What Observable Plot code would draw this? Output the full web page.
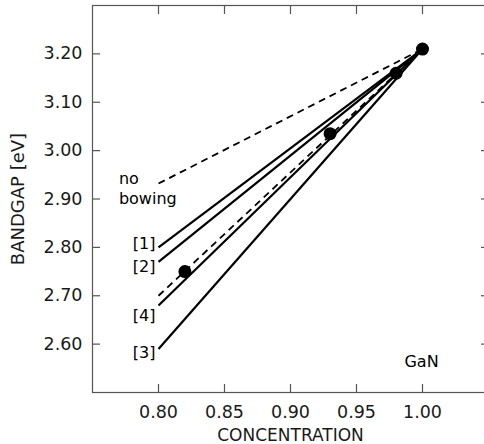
<!DOCTYPE html>
<html>
<head>
<meta charset="utf-8">
<script src="https://cdn.jsdelivr.net/npm/d3@7"></script>
<script src="https://cdn.jsdelivr.net/npm/@observablehq/plot@0.6"></script>
<style>
  html, body { margin: 0; padding: 0; background: #fff; overflow: hidden; }
  #chart svg { display: block; overflow: hidden; }
</style>
</head>
<body>
<div id="chart"></div>
<script>
// ---- data ----
const xTicks = [0.80, 0.85, 0.90, 0.95, 1.00];
const yTicks = [2.60, 2.70, 2.80, 2.90, 3.00, 3.10, 3.20];

// straight lines from x = 0.80 to the GaN end point
const lineNames  = ["no bowing", "[1]", "[2]", "fit", "[4]", "[3]"];
const lineStartX = [0.80, 0.80, 0.80, 0.80, 0.80, 0.80];
const lineStartY = [2.932, 2.80, 2.77, 2.70, 2.68, 2.59];
const lineEndX   = [1.00, 1.00, 1.00, 1.00, 1.00, 1.00];
const lineEndY   = [3.21, 3.21, 3.21, 3.21, 3.21, 3.21];

// measured points
const pointX = [0.82, 0.93, 0.98, 1.00];
const pointY = [2.75, 3.035, 3.16, 3.21];

// line labels (anchored at x = 0.80)
const refLabels = ["[1]", "[2]", "[4]", "[3]"];
const refLabelY = [2.807, 2.759, 2.659, 2.581];

const noBowingText = "no\nbowing";
const noBowingX = 0.770, noBowingY = 2.889;
const ganText = "GaN";
const ganX = 1.00, ganY = 2.564;

const xLabel = "CONCENTRATION";
const yLabel = "BANDGAP [eV]";

// ---- build tables ----
const segments = lineNames.map((name, i) => ({
  name, x1: lineStartX[i], y1: lineStartY[i], x2: lineEndX[i], y2: lineEndY[i]
}));
const dashedNames = new Set(["no bowing", "fit"]);
const points = pointX.map((x, i) => ({x, y: pointY[i]}));
const labels = refLabels.map((t, i) => ({t, x: 0.80, y: refLabelY[i]}));

const fmt = d3.format(".2f");
const frameColor = "#555";
const textColor = "#1a1a1a";

const chart = Plot.plot({
  width: 484,
  height: 444,
  marginLeft: 92,
  marginRight: -4,
  marginTop: 5,
  marginBottom: 52,
  style: {fontFamily: "'DejaVu Sans', sans-serif", fontSize: "17px", color: textColor, background: "#fff"},
  x: {domain: [0.75, 1.05]},
  y: {domain: [2.50, 3.30]},
  marks: [
    Plot.frame({stroke: frameColor, strokeWidth: 1.2}),
    Plot.axisX({ticks: xTicks, anchor: "bottom", tickSize: -8, tickPadding: 21, tickFormat: fmt,
      label: null, stroke: frameColor, fill: textColor, fontSize: 17.5, strokeWidth: 1.2}),
    Plot.axisX({ticks: xTicks, anchor: "top", tickSize: -8, tickFormat: () => "",
      label: null, stroke: frameColor, strokeWidth: 1.2}),
    Plot.axisY({ticks: yTicks, anchor: "left", tickSize: -8, tickPadding: 18, tickFormat: fmt,
      label: null, stroke: frameColor, fill: textColor, fontSize: 17.5, strokeWidth: 1.2}),
    Plot.axisY({ticks: yTicks, anchor: "right", tickSize: -8, tickFormat: () => "",
      label: null, stroke: frameColor, strokeWidth: 1.2}),

    Plot.link(segments.filter(d => !dashedNames.has(d.name)), {
      x1: "x1", y1: "y1", x2: "x2", y2: "y2", stroke: "#000", strokeWidth: 2.2
    }),
    Plot.link(segments.filter(d => dashedNames.has(d.name)), {
      x1: "x1", y1: "y1", x2: "x2", y2: "y2", stroke: "#000", strokeWidth: 1.8, strokeDasharray: "7,5"
    }),
    Plot.dot(points, {x: "x", y: "y", r: 6.5, fill: "#000", stroke: "none"}),

    Plot.text(labels, {x: "x", y: "y", text: "t", textAnchor: "end", dx: -3, fontSize: 16, fill: "#000", lineAnchor: "middle"}),
    Plot.text([noBowingText], {x: noBowingX, y: noBowingY, text: d => d, textAnchor: "start",
      lineAnchor: "bottom", lineHeight: 1.25, fontSize: 16, fill: "#000"}),
    Plot.text([ganText], {x: ganX, y: ganY, text: d => d, textAnchor: "middle", dx: -1,
      lineAnchor: "middle", fontSize: 16, fill: "#000"}),

    Plot.text([xLabel], {frameAnchor: "bottom", text: d => d, dy: 42.7, lineAnchor: "middle",
      fontSize: 17, fill: textColor}),
    Plot.text([yLabel], {frameAnchor: "left", text: d => d, rotate: -90, dx: -74, dy: 0,
      textAnchor: "middle", lineAnchor: "middle", fontSize: 18, fill: textColor})
  ]
});
document.getElementById("chart").appendChild(chart);
</script>
</body>
</html>
